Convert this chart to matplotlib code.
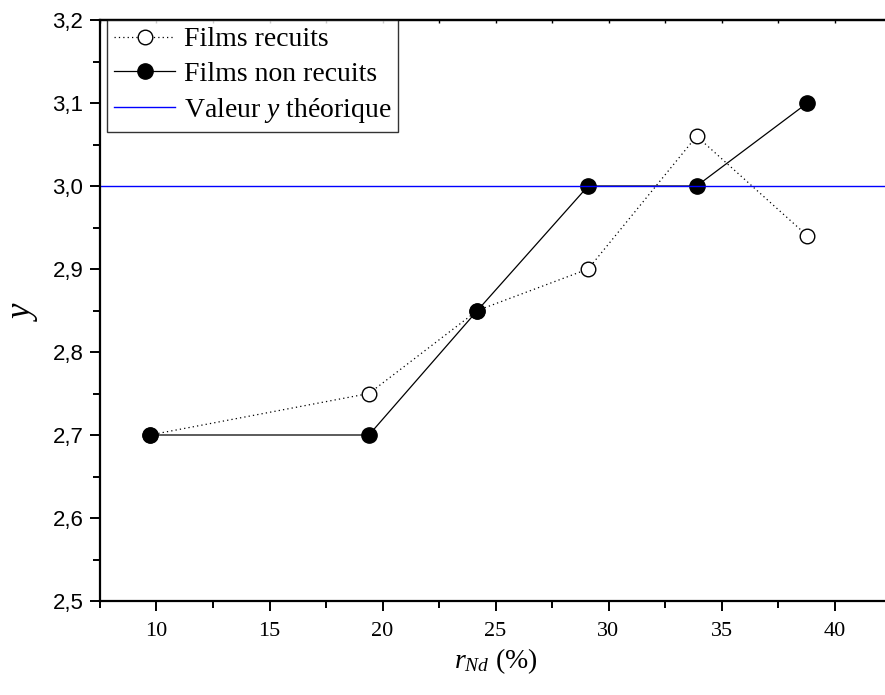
import numpy as np
import matplotlib.pyplot as plt
from matplotlib.ticker import MultipleLocator, FuncFormatter

plt.rcParams['mathtext.fontset'] = 'custom'
plt.rcParams['mathtext.rm'] = 'Liberation Serif'
plt.rcParams['mathtext.it'] = 'Liberation Serif:italic'

# donnees
r_nd = [9.7, 19.4, 24.2, 29.1, 33.9, 38.8]
y_recuits = [2.70, 2.75, 2.85, 2.90, 3.06, 2.94]
y_non_recuits = [2.70, 2.70, 2.85, 3.00, 3.00, 3.10]
y_theorique = 3.0

fig = plt.figure(figsize=(8.85, 6.95), dpi=100)
ax = fig.add_axes([100 / 885, 1 - 601 / 695, 791 / 885, 581 / 695])

ax.plot(r_nd, y_recuits, linestyle=(0, (1, 2.5)), color="black", lw=0.9,
        marker="o", markersize=10.5, markerfacecolor="white",
        markeredgecolor="black", markeredgewidth=1.0, label="Films recuits")
ax.plot(r_nd, y_non_recuits, linestyle="-", color="black", lw=0.9,
        marker="o", markersize=11, markerfacecolor="black",
        markeredgecolor="black", label="Films non recuits")
ax.axhline(y_theorique, color="#0000ff", lw=1.0, label="Valeur $y$ théorique")

ax.set_xlim(7.5, 42.5)
ax.set_ylim(2.5, 3.2)

ax.xaxis.set_major_locator(MultipleLocator(5))
ax.xaxis.set_minor_locator(MultipleLocator(2.5))
ax.yaxis.set_major_locator(MultipleLocator(0.1))
ax.yaxis.set_minor_locator(MultipleLocator(0.05))
ax.yaxis.set_major_formatter(FuncFormatter(lambda v, p: f"{v:.1f}".replace(".", ",")))

ax.spines["right"].set_visible(False)
for s in ["left", "bottom", "top"]:
    ax.spines[s].set_linewidth(1.6)

ax.tick_params(axis="both", which="major", direction="out", length=7, width=1.4)
ax.tick_params(axis="both", which="minor", direction="out", length=5, width=1.4)
ax.tick_params(axis="x", pad=8, labelsize=16, labelfontfamily="Liberation Serif")
ax.tick_params(axis="y", pad=5, labelsize=16, labelfontfamily="Liberation Sans")

# petites graduations vers l'interieur sur l'axe du haut
top = ax.secondary_xaxis("top")
top.xaxis.set_major_locator(MultipleLocator(5))
top.xaxis.set_minor_locator(MultipleLocator(2.5))
top.tick_params(which="both", direction="in", length=2.5, width=1.0, labeltop=False)
top.spines["top"].set_linewidth(1.6)

ax.set_xlabel(r"$r_{Nd}$ (%)", fontfamily="Liberation Serif", fontsize=20, labelpad=4)
ax.set_ylabel("$y$", fontsize=25, labelpad=9)

leg = ax.legend(loc="upper left", bbox_to_anchor=(0.009, 1.0), borderaxespad=0,
                prop={"family": "Liberation Serif", "size": 20},
                frameon=True, fancybox=False, edgecolor="black",
                handlelength=2.2, handletextpad=0.3, labelspacing=0.33,
                borderpad=0.25)
leg.get_frame().set_linewidth(1.0)

fig.savefig("out.png", dpi=100)
